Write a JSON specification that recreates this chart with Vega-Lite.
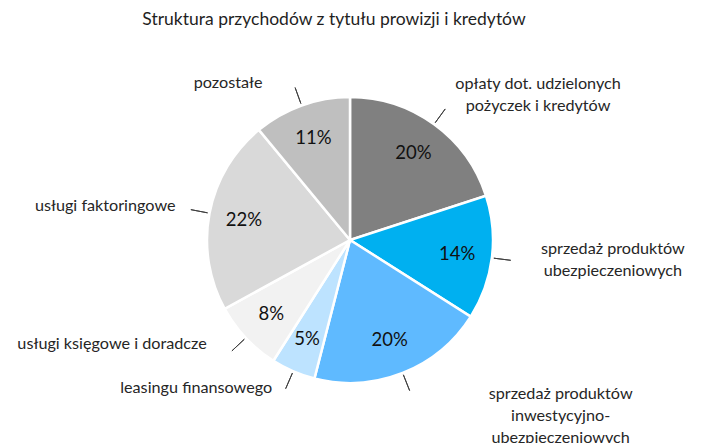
{
  "$schema": "https://vega.github.io/schema/vega-lite/v6.json",
  "width": 700,
  "height": 398,
  "autosize": {"type": "none"},
  "padding": {"top": 41, "left": 0, "right": 2, "bottom": 4},
  "background": "white",
  "title": {
    "text": "Struktura  przychodów  z tytułu  prowizji  i kredytów",
    "font": "Lato",
    "fontSize": 17.5,
    "fontWeight": "normal",
    "color": "#1f1f1f",
    "anchor": "middle",
    "dx": -16,
    "offset": 13
  },
  "config": {"view": {"stroke": null}},
  "data": {
    "values": [
      {"cat": "opłaty dot. udzielonych\npożyczek i kredytów", "share": 0.20, "o": 1},
      {"cat": "sprzedaż produktów\nubezpieczeniowych", "share": 0.14, "o": 2},
      {"cat": "sprzedaż produktów\ninwestycyjno-\nubezpieczeniowych", "share": 0.20, "o": 3},
      {"cat": "leasingu finansowego", "share": 0.05, "o": 4},
      {"cat": "usługi księgowe i doradcze", "share": 0.08, "o": 5},
      {"cat": "usługi faktoringowe", "share": 0.22, "o": 6},
      {"cat": "pozostałe", "share": 0.11, "o": 7}
    ]
  },
  "encoding": {
    "theta": {"field": "share", "type": "quantitative", "stack": true},
    "order": {"field": "o", "type": "quantitative"},
    "detail": {"field": "cat", "type": "nominal"}
  },
  "layer": [
    {
      "mark": {"type": "arc", "radius": 143, "stroke": "white", "strokeWidth": 2.5},
      "encoding": {
        "color": {
          "field": "o",
          "type": "ordinal",
          "scale": {"range": ["#808080", "#00B0F0", "#5FBAFF", "#BDE3FF", "#F2F2F2", "#D9D9D9", "#BFBFBF"]},
          "legend": null
        }
      }
    },
    {
      "mark": {"type": "arc", "radius": 162, "radius2": 145, "padAngle": 3, "fillOpacity": 0, "stroke": "#404040", "strokeWidth": 1}
    },
    {
      "mark": {"type": "text", "radius": 108, "font": "Lato", "fontSize": 18.5, "fill": "#111111", "align": "center", "baseline": "middle"},
      "encoding": {"text": {"field": "share", "type": "quantitative", "format": ".0%"}}
    },
    {
      "mark": {"type": "text", "radius": 143, "font": "Lato", "fontSize": 16.2, "fill": "#262626", "align": "center", "baseline": "middle", "lineBreak": "\n", "lineHeight": 22, "dx": 104, "dy": -40},
      "encoding": {"text": {"condition": {"test": "datum.o === 1", "field": "cat"}, "value": ""}}
    },
    {
      "mark": {"type": "text", "radius": 143, "font": "Lato", "fontSize": 16.2, "fill": "#262626", "align": "center", "baseline": "middle", "lineBreak": "\n", "lineHeight": 22, "dx": 121, "dy": -9},
      "encoding": {"text": {"condition": {"test": "datum.o === 2", "field": "cat"}, "value": ""}}
    },
    {
      "mark": {"type": "text", "radius": 143, "font": "Lato", "fontSize": 16.2, "fill": "#262626", "align": "center", "baseline": "middle", "lineBreak": "\n", "lineHeight": 22, "dx": 158, "dy": 21},
      "encoding": {"text": {"condition": {"test": "datum.o === 3", "field": "cat"}, "value": ""}}
    },
    {
      "mark": {"type": "text", "radius": 143, "font": "Lato", "fontSize": 16.2, "fill": "#262626", "align": "right", "baseline": "middle", "dx": -21, "dy": 17},
      "encoding": {"text": {"condition": {"test": "datum.o === 4", "field": "cat"}, "value": ""}}
    },
    {
      "mark": {"type": "text", "radius": 143, "font": "Lato", "fontSize": 16.2, "fill": "#262626", "align": "right", "baseline": "middle", "dx": -39, "dy": 6},
      "encoding": {"text": {"condition": {"test": "datum.o === 5", "field": "cat"}, "value": ""}}
    },
    {
      "mark": {"type": "text", "radius": 143, "font": "Lato", "fontSize": 16.2, "fill": "#262626", "align": "right", "baseline": "middle", "dx": -34, "dy": -7},
      "encoding": {"text": {"condition": {"test": "datum.o === 6", "field": "cat"}, "value": ""}}
    },
    {
      "mark": {"type": "text", "radius": 143, "font": "Lato", "fontSize": 16.2, "fill": "#262626", "align": "right", "baseline": "middle", "dx": -39, "dy": -22},
      "encoding": {"text": {"condition": {"test": "datum.o === 7", "field": "cat"}, "value": ""}}
    }
  ]
}
